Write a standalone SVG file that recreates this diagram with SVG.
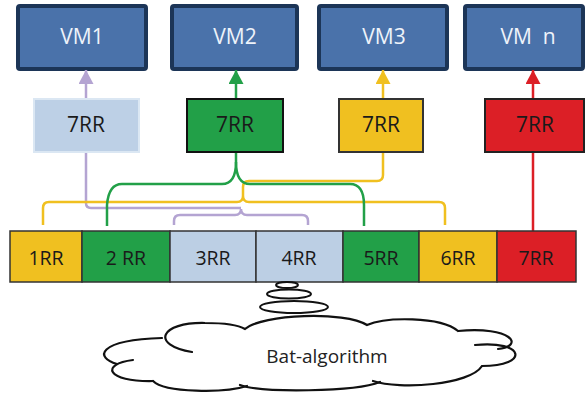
<svg xmlns="http://www.w3.org/2000/svg" width="586" height="394" viewBox="0 0 586 394">
  <style>
    .vm rect { fill: #4a72aa; stroke: #1c3557; stroke-width: 4; }
    .vm text { fill: #eef3fa; font-family: "Open Sans", "Noto Sans", sans-serif; font-size: 21px; text-anchor: middle; }
    .rr rect { stroke-width: 2; }
    .rr text { fill: #1a1a1a; font-family: "Open Sans", "Noto Sans", sans-serif; font-size: 21px; text-anchor: middle; }
    .seg rect { stroke: #333; stroke-width: 1.5; }
    .seg text { fill: #1a1a1a; font-family: "Open Sans", "Noto Sans", sans-serif; font-size: 19.5px; text-anchor: middle; }
    .wire { fill: none; stroke-width: 2.5; }
    .lav { stroke: #b4a4d2; }
    .yel { stroke: #f0c020; }
    .grn { stroke: #22a048; }
    .red { stroke: #dc1f26; }
    .cloud path { fill: none; stroke: #111; stroke-width: 2.2; stroke-linecap: round; }
    .bubble { fill: none; stroke: #111; stroke-width: 2; }
    .cloud text { fill: #222; font-family: "Open Sans", "Noto Sans", sans-serif; font-size: 19px; text-anchor: middle; }
  </style>
  <defs>
    <marker id="ah-lav" markerUnits="userSpaceOnUse" markerWidth="15" markerHeight="15" refX="14" refY="7.5" orient="auto"><path d="M0,0 L14,7.5 L0,15 z" fill="#b4a4d2"/></marker>
    <marker id="ah-grn" markerUnits="userSpaceOnUse" markerWidth="15" markerHeight="15" refX="14" refY="7.5" orient="auto"><path d="M0,0 L14,7.5 L0,15 z" fill="#22a048"/></marker>
    <marker id="ah-yel" markerUnits="userSpaceOnUse" markerWidth="15" markerHeight="15" refX="14" refY="7.5" orient="auto"><path d="M0,0 L14,7.5 L0,15 z" fill="#f0c020"/></marker>
    <marker id="ah-red" markerUnits="userSpaceOnUse" markerWidth="15" markerHeight="15" refX="14" refY="7.5" orient="auto"><path d="M0,0 L14,7.5 L0,15 z" fill="#dc1f26"/></marker>
  </defs>

  <!-- virtual machines -->
  <g id="vm1" class="vm"><rect x="18" y="6" width="128" height="63" rx="2"/><text x="82" y="44">VM1</text></g>
  <g id="vm2" class="vm"><rect x="172" y="6" width="125" height="63" rx="2"/><text x="235" y="44">VM2</text></g>
  <g id="vm3" class="vm"><rect x="319" y="6" width="128" height="63" rx="2"/><text x="384" y="44">VM3</text></g>
  <g id="vmn" class="vm"><rect x="465" y="6" width="118" height="63" rx="2"/><text x="528" y="44" xml:space="preserve">VM  n</text></g>

  <!-- connectors -->
  <g id="connectors">
    <!-- lavender: 3RR/4RR -> VM1 -->
    <path class="wire lav" d="M174,225 V221 Q174,215 180,215 H235 Q241,215 241,209 Q241,215 247,215 H302 Q308,215 308,221 V225"/>
    <path class="wire lav" d="M86,152 V203 Q86,208 91,208 H241"/>
    <line class="wire lav" x1="86" y1="99" x2="86" y2="70" marker-end="url(#ah-lav)"/>
    <!-- yellow: 1RR/6RR -> VM3 -->
    <path class="wire yel" d="M43,225 V208 Q43,202 49,202 H237 Q243,202 243,196 Q243,202 249,202 H439 Q445,202 445,208 V225"/>
    <path class="wire yel" d="M243,196 V187 Q243,181 249,181 H377 Q383,181 383,175 V152"/>
    <line class="wire yel" x1="383" y1="99" x2="383" y2="70" marker-end="url(#ah-yel)"/>
    <!-- green: 2RR/5RR -> VM2 -->
    <path class="wire grn" d="M236,152 V162 C236,176 232,184 222,184 H122 C112,184 108,192 107,205 V226"/>
    <path class="wire grn" d="M236,162 C236,176 240,184 250,184 H350 C360,184 364,192 364,205 V226"/>
    <line class="wire grn" x1="236" y1="99" x2="236" y2="70" marker-end="url(#ah-grn)"/>
    <!-- red: 7RR -> VM n -->
    <line class="wire red" x1="533" y1="152" x2="533" y2="231"/>
    <line class="wire red" x1="533" y1="99" x2="533" y2="70" marker-end="url(#ah-red)"/>
  </g>

  <!-- task boxes -->
  <g id="rr-lav" class="rr"><rect x="34" y="99" width="105" height="53" fill="#bdd0e6" stroke="#dbe7f3"/><text x="86" y="132">7RR</text></g>
  <g id="rr-grn" class="rr"><rect x="187" y="99" width="96" height="53" fill="#22a048" stroke="#111"/><text x="235" y="132">7RR</text></g>
  <g id="rr-yel" class="rr"><rect x="339" y="99" width="84" height="53" fill="#f0c020" stroke="#333"/><text x="381" y="132">7RR</text></g>
  <g id="rr-red" class="rr"><rect x="485" y="99" width="99" height="53" fill="#dc1f26" stroke="#222"/><text x="535" y="132">7RR</text></g>

  <!-- schedule bar -->
  <g id="bar" class="seg">
    <g id="seg1"><rect x="10" y="231" width="72" height="51" fill="#f0c020"/><text x="46" y="265">1RR</text></g>
    <g id="seg2"><rect x="82" y="231" width="88" height="51" fill="#22a048"/><text x="126" y="265" xml:space="preserve">2 RR</text></g>
    <g id="seg3"><rect x="170" y="231" width="86" height="51" fill="#bccfe4"/><text x="213" y="265">3RR</text></g>
    <g id="seg4"><rect x="256" y="231" width="87" height="51" fill="#bccfe4"/><text x="299" y="265">4RR</text></g>
    <g id="seg5"><rect x="343" y="231" width="76" height="51" fill="#22a048"/><text x="381" y="265">5RR</text></g>
    <g id="seg6"><rect x="419" y="231" width="78" height="51" fill="#f0c020"/><text x="458" y="265">6RR</text></g>
    <g id="seg7"><rect x="497" y="231" width="79" height="51" fill="#dc1f26"/><text x="536" y="265">7RR</text></g>
  </g>

  <!-- thought bubbles and cloud -->
  <g id="bat-algorithm" class="cloud">
    <ellipse class="bubble" cx="287" cy="285" rx="11" ry="3"/>
    <ellipse class="bubble" cx="289" cy="294" rx="22" ry="4.5"/>
    <ellipse class="bubble" cx="294" cy="307" rx="34" ry="6"/>
    <path d="M117,364 C95,358 96,340 162,338"/>
    <path d="M192,352 C150,345 160,322 205,323 C228,323 240,326 245,329 C262,314 345,311 367,325 C385,317 440,316 458,331 C512,326 525,346 498,349"/>
    <path d="M475,345 C525,340 530,366 482,366 C470,385 400,390 373,381"/>
    <path d="M380,382 C355,392 262,393 240,385"/>
    <path d="M247,386 C225,393 165,393 153,381"/>
    <path d="M133,360 C100,364 106,382 153,381"/>
    <text x="327" y="363">Bat-algorithm</text>
  </g>
</svg>
